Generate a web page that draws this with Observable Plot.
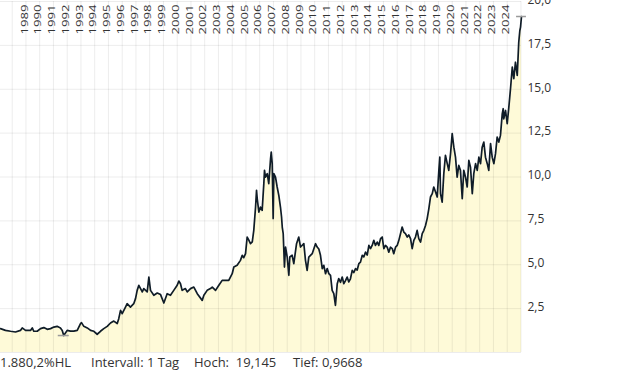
<!DOCTYPE html>
<html><head><meta charset="utf-8">
<script src="https://cdn.jsdelivr.net/npm/d3@7"></script>
<script src="https://cdn.jsdelivr.net/npm/@observablehq/plot@0.6"></script>
<style>
body{margin:0;background:#fff;font-family:"Open Sans",sans-serif;}
#chart{width:620px;height:353px;}
#caption{position:relative;width:620px;height:19px;font-size:13px;color:#333;line-height:19px;}
#caption span{position:absolute;top:0;white-space:pre;}
</style></head><body>
<div id="chart"></div>
<div id="caption"></div>
<script>
// time in decimal years
const dates = [
1988.15,1988.51,1988.88,1989.24,1989.60,1989.73,1989.97,1990.33,1990.46,1990.57,
1990.82,1991.06,1991.30,1991.55,1991.79,1992.03,1992.27,1992.51,1992.64,1992.75,
1993.00,1993.24,1993.48,1993.73,1993.97,1994.04,1994.21,1994.46,1994.70,1994.94,
1995.18,1995.42,1995.66,1995.91,1996.15,1996.39,1996.64,1996.75,1996.88,1997.00,
1997.24,1997.36,1997.60,1997.84,1997.97,1998.09,1998.21,1998.46,1998.57,1998.82,
1998.94,1999.06,1999.30,1999.55,1999.79,2000.03,2000.27,2000.51,2000.75,2001.00,
2001.12,2001.24,2001.36,2001.60,2001.73,2001.97,2002.21,2002.46,
2002.82,2002.94,2003.18,2003.42,2003.55,2003.79,2004.03,2004.27,2004.51,2004.75,
2005.00,2005.12,2005.36,2005.60,2005.73,2005.84,2005.97,2006.09,2006.21,2006.33,
2006.46,2006.57,2006.70,2006.77,2006.82,2006.94,2007.06,2007.18,2007.30,2007.35,
2007.42,2007.55,2007.66,2007.79,2007.84,2007.91,2007.98,2008.03,2008.15,2008.27,
2008.39,2008.51,2008.59,2008.64,2008.71,2008.80,2008.88,2009.00,2009.12,2009.19,
2009.36,2009.48,2009.68,2009.84,2009.97,2010.21,2010.33,2010.45,2010.57,2010.82,
2011.06,2011.18,2011.30,2011.42,2011.55,2011.66,2011.79,2011.91,2012.03,
2012.15,2012.27,2012.39,2012.51,2012.64,2012.75,2012.88,2013.00,2013.12,2013.24,
2013.36,2013.48,2013.60,2013.73,2013.84,2013.97,2014.09,2014.21,2014.33,2014.46,
2014.57,2014.70,2014.82,2014.94,2015.06,2015.18,2015.30,2015.42,2015.55,2015.66,
2015.79,2015.91,2016.03,2016.15,2016.27,2016.39,2016.51,2016.64,2016.75,2016.88,
2017.00,2017.12,2017.24,2017.36,2017.48,2017.60,2017.73,2017.84,2017.97,2018.09,
2018.21,2018.33,2018.45,2018.57,2018.70,2018.82,2018.94,2019.06,2019.18,2019.30,
2019.42,2019.55,2019.66,2019.79,2019.91,
2020.03,2020.10,2020.15,2020.27,2020.39,2020.51,2020.64,2020.75,2020.88,2021.00,
2021.12,2021.24,2021.36,2021.48,2021.60,2021.73,2021.84,2021.97,2022.09,2022.21,
2022.33,2022.46,2022.57,2022.70,2022.82,2022.94,2023.06,2023.18,2023.30,2023.42,
2023.55,2023.66,2023.79,2023.91,2024.03,2024.15,2024.27,2024.39,2024.51,2024.64,
2024.71,2024.75,2024.88,2025.00,2025.12,2025.24,2025.29,2025.37,2025.48,2025.60,
2025.73,2025.77,2025.84,2025.92,2025.97,2026.04
];
const values = [
1.36,1.26,1.21,1.17,1.26,1.40,1.26,1.26,1.40,1.21,
1.21,1.36,1.42,1.32,1.36,1.45,1.49,1.40,1.26,0.9668,
1.26,1.22,1.22,1.26,1.65,1.70,1.49,1.40,1.26,1.21,
1.04,1.21,1.36,1.49,1.68,1.79,1.65,1.93,2.40,2.21,
2.59,2.78,2.59,2.78,3.07,3.54,3.83,3.45,3.64,3.45,
4.30,3.54,3.26,3.39,3.30,2.82,3.35,3.26,3.54,3.83,
4.07,3.92,3.54,3.64,3.45,3.64,3.73,3.35,
2.97,3.26,3.54,3.64,3.73,3.54,3.83,4.11,4.11,4.11,
4.49,4.87,4.97,5.25,5.54,5.40,5.63,6.58,6.40,6.20,
6.30,6.96,8.29,9.24,8.77,8.00,8.29,8.10,9.62,10.38,
9.99,10.19,9.62,11.04,11.42,10.76,7.63,10.19,9.99,9.43,
8.95,8.29,7.72,7.15,6.77,4.87,6.01,5.44,4.40,5.44,
5.54,5.06,6.20,6.58,6.01,6.20,5.25,4.68,5.44,5.63,
6.20,6.01,5.90,5.54,4.78,4.97,4.49,4.78,4.49,
4.40,3.54,3.35,2.69,3.92,4.21,4.00,4.30,3.92,4.10,
4.30,4.02,4.20,4.68,4.55,4.78,4.70,5.06,5.15,5.54,
5.45,5.72,5.55,6.10,5.92,6.10,6.39,6.10,6.29,6.10,
6.49,6.58,5.92,6.10,6.01,5.72,6.00,5.92,5.63,6.00,
6.10,6.39,6.77,7.15,6.86,6.77,6.58,6.70,6.49,5.92,
6.39,6.58,6.96,6.49,6.29,6.77,6.96,7.24,7.63,8.19,
8.86,9.05,9.43,9.14,8.86,
10.38,11.13,9.05,8.57,10.19,11.23,10.76,10.38,11.33,12.47,
11.70,11.13,9.99,10.66,10.38,8.76,10.38,9.99,9.43,10.95,
10.56,9.05,10.19,10.76,10.38,11.13,10.76,11.70,11.99,11.13,
10.76,10.38,11.90,11.13,10.76,11.33,12.28,11.99,12.37,13.60,
13.89,13.31,13.79,13.04,13.98,15.03,15.50,16.26,15.60,16.54,
15.79,16.45,17.68,18.35,18.54,19.145
];
const yearLabels = [1989,1990,1991,1992,1993,1994,1995,1996,1997,1998,1999,2000,
2001,2002,2003,2004,2005,2006,2007,2008,2009,2010,2011,2012,2013,2014,2015,2016,
2017,2018,2019,2020,2021,2022,2023,2024];
const yearGrid = [1989,1990,1991,1992,1993,1994,1995,1996,1997,1998,1999,2000,
2001,2002,2003,2004,2005,2006,2007,2008,2009,2010,2011,2012,2013,2014,2015,2016,
2017,2018,2019,2020,2021,2022,2023,2024,2025,2026];
const yTicks = [2.5,5,7.5,10,12.5,15,17.5,20];
const yGrid = [0,2.5,5,7.5,10,12.5,15,17.5,20];
const captionItems = ["1.880,2%HL","Intervall: 1 Tag","Hoch:  19,145","Tief: 0,9668"];

const data = dates.map((t,i)=>({t, v: values[i]}));
const hi = data.reduce((a,b)=>b.v>a.v?b:a);
const lo = data.reduce((a,b)=>b.v<a.v?b:a);
const fmt = d => d.toFixed(1).replace(".", ",");

const chart = Plot.plot({
  width: 620, height: 353,
  marginLeft: 0, marginRight: 99, marginTop: 1, marginBottom: 1,
  style: {fontFamily: "'Open Sans', sans-serif", background: "transparent", overflow: "visible", color: "#333"},
  x: {domain: [1988.15, 2026.04], axis: null},
  y: {domain: [0, 20], axis: null},
  marks: [
    Plot.areaY(data, {x: "t", y: "v", fill: "#fefad8"}),
    Plot.ruleX(yearGrid, {stroke: "#000", strokeOpacity: 0.075}),
    Plot.ruleY(yGrid, {stroke: "#000", strokeOpacity: 0.075}),
    Plot.lineY(data, {x: "t", y: "v", stroke: "#0f1c28", strokeWidth: 1.7}),
    Plot.ruleY([lo], {y: "v", x1: d => d.t - 0.4, x2: d => d.t + 0.4, stroke: "#9a9a9a", strokeWidth: 1.5}),
    Plot.ruleY([hi], {y: "v", x1: d => d.t - 0.36, x2: d => d.t + 0.36, stroke: "#9a9a9a", strokeWidth: 1.5}),
    Plot.axisY(yTicks, {anchor: "right", tickSize: 0, tickPadding: 6, tickFormat: fmt, dy: -1.5, fontSize: 12, fill: "#333", label: null}),
    Plot.text(yearLabels, {x: d => d + 0.62, text: d => String(d), frameAnchor: "top", dy: 33, rotate: -90, textAnchor: "start", fontSize: 9.6, fill: "#333"})
  ]
});
// year labels in the reference are drawn stretched along their reading direction
d3.select(chart).selectAll("text")
  .filter(function() { return /^\d{4}$/.test(this.textContent); })
  .attr("textLength", 30).attr("lengthAdjust", "spacingAndGlyphs");
document.getElementById("chart").appendChild(chart);

const lefts = [0, 91, 194, 293];
const cap = document.getElementById("caption");
captionItems.forEach((s,i)=>{
  const sp = document.createElement("span");
  sp.textContent = s; sp.style.left = lefts[i] + "px";
  cap.appendChild(sp);
});
</script>
</body></html>
